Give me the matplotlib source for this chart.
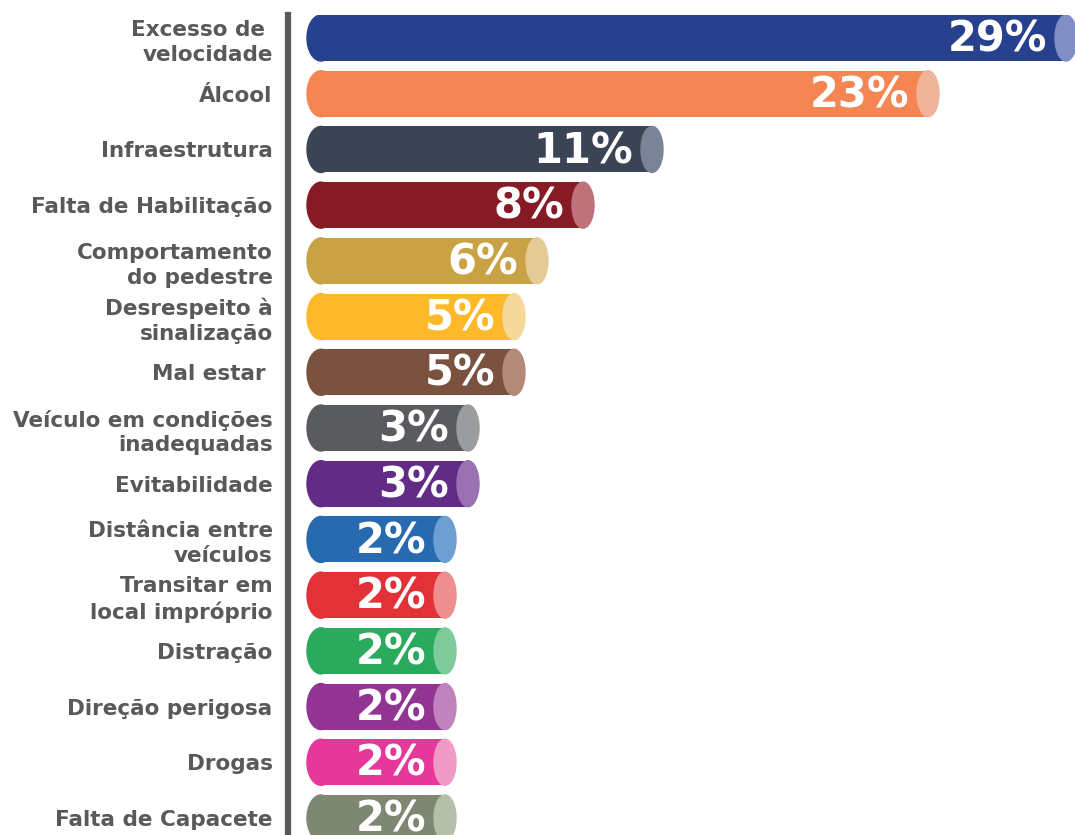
import matplotlib
matplotlib.use("Agg")
from matplotlib import pyplot as plt
from matplotlib.patches import Ellipse

categorias = ["Excesso de \nvelocidade", "Álcool", "Infraestrutura", "Falta de Habilitação",
              "Comportamento\ndo pedestre", "Desrespeito à\nsinalização", "Mal estar ",
              "Veículo em condições\ninadequadas", "Evitabilidade", "Distância entre\nveículos",
              "Transitar em\nlocal impróprio", "Distração", "Direção perigosa", "Drogas",
              "Falta de Capacete"]
valores = [29, 23, 11, 8, 6, 5, 5, 3, 3, 2, 2, 2, 2, 2, 2]
cores = ["#27418F", "#F58552", "#3B4455", "#861B26", "#C9A244", "#FDB92A", "#7B5240",
         "#5A5B5E", "#622C86", "#276AAF", "#E23237", "#2AAA5C", "#913492", "#E8379A",
         "#7D8772"]
tampas = ["#7F8FC5", "#F0B49A", "#7B8497", "#C0727A", "#E4CB95", "#F4D99A", "#B38A78",
          "#9A9C9D", "#9A72B4", "#6E9FD2", "#EE8E8E", "#7FCB9B", "#C083BD", "#F09AC6",
          "#B6BFAA"]

W, H = 1075, 835
fig = plt.figure(figsize=(W/100, H/100), dpi=100)
ax = fig.add_axes([288/W, 0, (W-288)/W, (H-15)/H])

px = 1/23.0          # x units per pixel
folga = 4            # extra length so the label fits in small bars
rw = 22*px           # width of the elliptical cap
re = 28*px           # width of the rounded left end
h = 46/55.7          # bar height in row units

for i, (v, c, t) in enumerate(zip(valores, cores, tampas)):
    L = v + folga
    ax.barh(i, L - re/2, left=re/2, height=h, color=c, zorder=2)
    ax.add_patch(Ellipse((re/2, i), re, h, color=c, zorder=2))
    ax.add_patch(Ellipse((L, i), rw, h, color=t, zorder=3))
    ax.text(L - rw/2 - 8*px, i + 0.03, f"{v}%", ha="right", va="center", color="white",
            fontsize=30, fontweight="bold", zorder=4)

n = len(valores)
ax.set_ylim(n - 1 + 17/55.7, -23/55.7)
ax.set_xlim(-19*px, (W - 288 - 19)*px)
ax.set_yticks(range(n), labels=categorias)
ax.tick_params(axis="y", length=0, pad=11, labelsize=15.5, labelcolor="#58595B")
for lab in ax.get_yticklabels():
    lab.set_fontweight("bold")
    lab.set_linespacing(1.3)
ax.set_xticks([])
for s in ["top", "right", "bottom"]:
    ax.spines[s].set_visible(False)
ax.spines["left"].set_color("#58595B")
ax.spines["left"].set_linewidth(4.5)
ax.patch.set_alpha(0)

fig.savefig("out.png", dpi=100)
